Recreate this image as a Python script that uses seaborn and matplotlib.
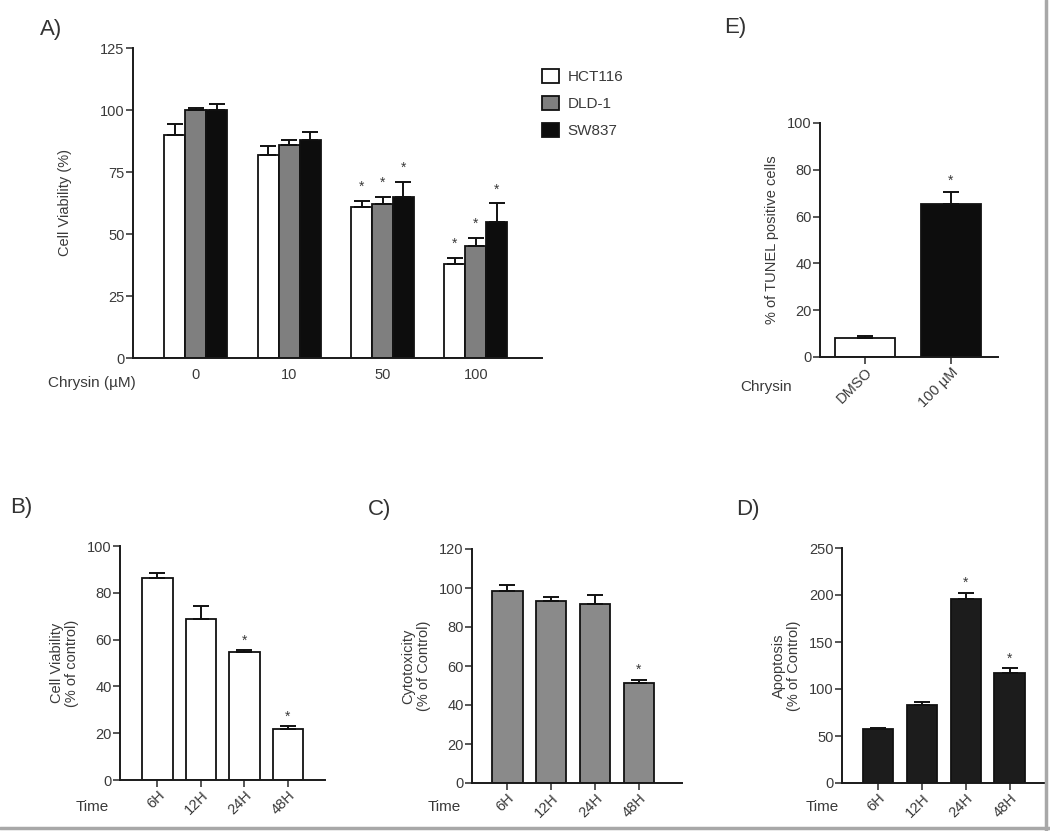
import pandas as pd
import matplotlib.pyplot as plt
import matplotlib.lines as mlines
import matplotlib.patches as mpatches
import seaborn as sns
import numpy as np

# === data ===
doses = ["0", "10", "50", "100"]
lines_ = ["HCT116", "DLD-1", "SW837"]
hct116 = [90, 82, 61, 38]
hct116_err = [4.5, 3.5, 2.5, 2.5]
dld1 = [100, 86, 62, 45]
dld1_err = [1, 2, 3, 3.5]
sw837 = [100, 88, 65, 55]
sw837_err = [2.5, 3, 6, 7.5]
# which bars in A get a star (dose index, line index)
stars_a = [(2, 0), (2, 1), (2, 2), (3, 0), (3, 1), (3, 2)]

times = ["6H", "12H", "24H", "48H"]
viab = [86.5, 69, 54.5, 21.7]
viab_err = [2, 5.5, 1, 1.2]
cyto = [98.5, 93.5, 92, 51.5]
cyto_err = [3, 2, 4.5, 1.5]
apop = [57, 83.5, 195.5, 116.5]
apop_err = [2, 2.5, 7, 5.5]

tunel_groups = ["DMSO", "100 \u00b5M"]
tunel = [8, 65.5]
tunel_err = [1, 5]

TXT = "#3a3a3a"
W, H = 1050, 831

sns.set_style("ticks")
plt.rcParams["font.family"] = ["Liberation Sans", "DejaVu Sans"]
plt.rcParams["text.color"] = TXT
plt.rcParams["axes.labelcolor"] = TXT
plt.rcParams["xtick.color"] = TXT
plt.rcParams["ytick.color"] = TXT
plt.rcParams["axes.edgecolor"] = "#1a1a1a"
plt.rcParams["axes.linewidth"] = 1.4

fig = plt.figure(figsize=(10.5, 8.31), dpi=100)


def px_axes(l, r, t, b):
    return fig.add_axes([l / W, 1 - b / H, (r - l) / W, (b - t) / H])


def style(ax, ymax, step, xlim):
    sns.despine(ax=ax)
    ax.set_ylim(0, ymax)
    ax.set_yticks(np.arange(0, ymax + 1, step))
    ax.set_xlim(*xlim)
    ax.tick_params(axis="both", direction="out", length=5, width=1.2, labelsize=10.5, pad=1)
    ax.set_xlabel("")


def add_err(ax, vals, errs, stars=None, star_off=4):
    bars = sorted(ax.patches, key=lambda p: p.get_x())
    for i, (p, v, e) in enumerate(zip(bars, vals, errs)):
        xc = p.get_x() + p.get_width() / 2
        ax.errorbar(xc, v, yerr=[[0], [e]], fmt="none", ecolor="#111111",
                    elinewidth=1.4, capsize=6, capthick=1.4, zorder=3)
        if stars is not None and i in stars:
            ax.text(xc, v + e + star_off, "*", ha="center", va="center", fontsize=10, color=TXT)


# ---------- A ----------
axA = px_axes(133, 542, 48, 358)
dfA = pd.DataFrame({
    "dose": doses * 3,
    "line": np.repeat(lines_, 4),
    "val": hct116 + dld1 + sw837,
})
sns.barplot(data=dfA, x="dose", y="val", hue="line", order=doses, hue_order=lines_,
            palette=["white", "#7f7f7f", "#0d0d0d"], edgecolor="#111111", linewidth=1.3,
            width=0.675, errorbar=None, legend=False, ax=axA)
style(axA, 125, 25, (-0.675, 3.71))
valsA, errsA = [], []
for d in range(4):
    for v, e in ((hct116, hct116_err), (dld1, dld1_err), (sw837, sw837_err)):
        valsA.append(v[d])
        errsA.append(e[d])
add_err(axA, valsA, errsA, stars=[d * 3 + l for d, l in stars_a], star_off=5.5)
axA.set_ylabel("Cell Viability (%)", fontsize=10.5, labelpad=20)
axA.tick_params(axis="x", length=0, pad=7)
fig.text(48 / W, 1 - 383 / H, "Chrysin (\u00b5M)", fontsize=11, va="center", ha="left")

handles = [mpatches.Patch(facecolor=c, edgecolor="#111111", linewidth=1.3, label=n)
           for c, n in zip(["white", "#7f7f7f", "#0d0d0d"], lines_)]
fig.legend(handles=handles, loc="upper left", bbox_to_anchor=(528 / W, 1 - 55 / H),
           frameon=False, fontsize=11, handlelength=1.1, handleheight=1.1,
           handletextpad=0.6, labelspacing=0.75)

# ---------- E ----------
axE = px_axes(820, 998, 123, 357)
dfE = pd.DataFrame({"grp": tunel_groups, "val": tunel})
sns.barplot(data=dfE, x="grp", y="val", hue="grp", palette=["white", "#0d0d0d"],
            edgecolor="#111111", linewidth=1.3, width=0.7, errorbar=None, legend=False, ax=axE)
style(axE, 100, 20, (-0.52, 1.55))
add_err(axE, tunel, tunel_err, stars=[1], star_off=5)
axE.set_ylabel("% of TUNEL positive cells", fontsize=10.5, labelpad=6)
axE.set_xticks(range(len(tunel_groups)))
axE.set_xticklabels(tunel_groups, rotation=45, ha="right", rotation_mode="anchor")
fig.text(740 / W, 1 - 387 / H, "Chrysin", fontsize=11, va="center", ha="left")

# ---------- B, C, D ----------
panels = [
    ("B", (120, 325, 546, 780), viab, viab_err, "white", 100, 20, (-0.86, 3.85),
     "Cell Viability\n(% of control)", [2, 3], 4),
    ("C", (472, 682, 549, 783), cyto, cyto_err, "#8a8a8a", 120, 20, (-0.8, 3.98),
     "Cytotoxicity\n(% of Control)", [3], 5),
    ("D", (842, 1045, 548, 783), apop, apop_err, "#1c1c1c", 250, 50, (-0.82, 3.8),
     "Apoptosis\n(% of Control)", [2, 3], 10),
]
time_x = {"B": 76, "C": 428, "D": 806}
for name, box, vals, errs, col, ymax, step, xl, ylab, st, off in panels:
    ax = px_axes(*box)
    df = pd.DataFrame({"time": times, "val": vals})
    sns.barplot(data=df, x="time", y="val", color=col, edgecolor="#111111", linewidth=1.3,
                width=0.7, errorbar=None, ax=ax)
    style(ax, ymax, step, xl)
    add_err(ax, vals, errs, stars=st, star_off=off)
    ax.set_ylabel(ylab, fontsize=10.5, labelpad=6, linespacing=1.1)
    ax.set_xticks(range(len(times)))
    ax.set_xticklabels(times, rotation=45, ha="right", rotation_mode="anchor")
    fig.text(time_x[name] / W, 1 - 807 / H, "Time", fontsize=11, va="center", ha="left")

# panel letters
for lab, x, y in [("A)", 40, 30), ("E)", 724, 28), ("B)", 10, 507), ("C)", 368, 510), ("D)", 736, 510)]:
    fig.text(x / W, 1 - y / H, lab, fontsize=16, va="center", ha="left", color="#333333")

# thin grey frame on right and bottom
fig.add_artist(mlines.Line2D([1046 / W, 1046 / W], [0, 1], color="#a8a8a8", lw=2.5))
fig.add_artist(mlines.Line2D([0, 1], [3 / H, 3 / H], color="#a8a8a8", lw=2.5))

plt.savefig("out.png", dpi=100)
